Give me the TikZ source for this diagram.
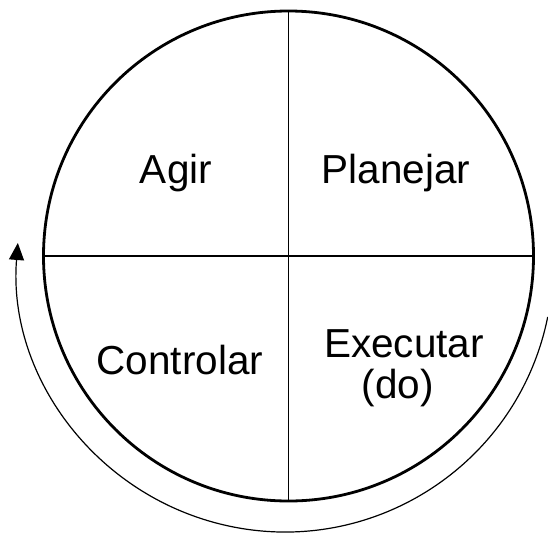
\documentclass[tikz,border=0pt]{standalone}
\usepackage{fontspec}
\setmainfont{Liberation Sans}
\usetikzlibrary{arrows.meta}
\begin{document}
\begin{tikzpicture}[x=1pt,y=1pt,
  ring/.style={circle, draw, line width=2.8pt, minimum size=490pt, inner sep=0pt, outer sep=0pt},
  divider/.style={line width=1.8pt},
  cycle/.style={line width=1.2pt, -{Triangle[length=17pt,width=15pt]}},
  label/.style={font=\fontsize{40.5}{41}\selectfont, inner sep=0pt, align=center}]
\useasboundingbox[fill=white] (0,0) rectangle (548,-533);
\node[ring] (c) at (288.5,-256) {};
\draw[divider] (c.north) -- (c.south);
\draw[divider] (c.west) -- (c.east);
\coordinate (ac) at (285,-264);
\coordinate (astart) at ([shift={(-11.4:268)}]ac);
\draw[cycle] (astart) arc[start angle=-11.4, end angle=-184.5, radius=268];
\node[label, anchor=base] (agir) at (176,-183) {Agir};
\node[label, anchor=base] (plan) at (396,-183) {Planejar};
\node[label, anchor=base] (ctrl) at (180,-374) {Controlar};
\node[label, anchor=base] (exec) at (404,-357) {Executar};
\node[label, anchor=base] (do) at (398,-398) {(do)};
\end{tikzpicture}
\end{document}
